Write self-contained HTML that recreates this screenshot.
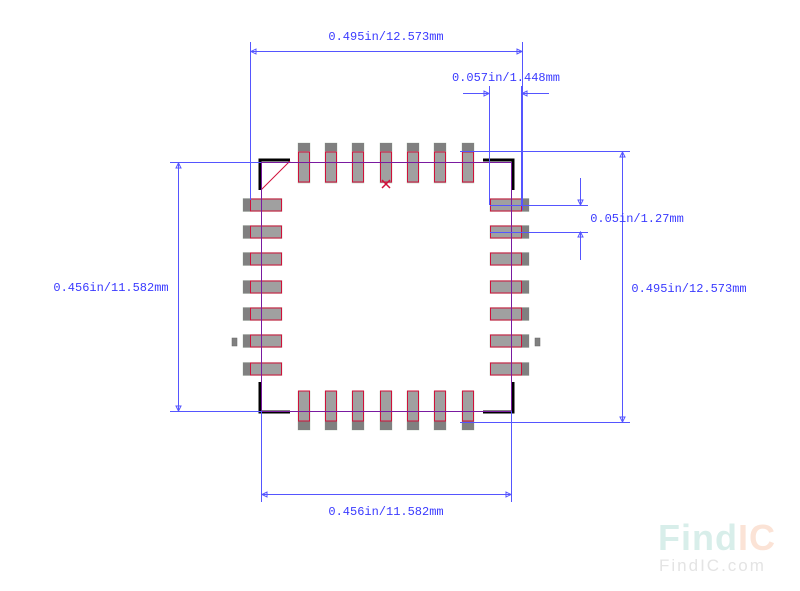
<!DOCTYPE html>
<html><head><meta charset="utf-8"><style>
html,body{margin:0;padding:0;background:#fff;}
svg{display:block;}
text{font-family:"Liberation Mono",monospace;font-size:12px;fill:#3a3aff;}
</style></head><body>
<svg width="800" height="591" viewBox="0 0 800 591" xmlns="http://www.w3.org/2000/svg">
<defs>
<g id="tp"><rect x="-6" y="143" width="12" height="40" fill="#a0a0a0" stroke="#b8c8b8" stroke-width="0.5"/><rect x="-6" y="143" width="12" height="8" fill="#808080"/><rect x="-5.5" y="152" width="11" height="30" fill="none" stroke="#d0103a" stroke-width="1"/></g>
<g id="bp"><rect x="-6" y="391" width="12" height="39" fill="#a0a0a0" stroke="#b8c8b8" stroke-width="0.5"/><rect x="-6" y="421" width="12" height="9" fill="#808080"/><rect x="-5.5" y="391" width="11" height="30" fill="none" stroke="#d0103a" stroke-width="1"/></g>
<g id="lp"><rect x="243" y="-6.5" width="39" height="13" fill="#a0a0a0" stroke="#b8c8b8" stroke-width="0.5"/><rect x="243" y="-6.5" width="7" height="13" fill="#808080"/><rect x="250.5" y="-6" width="31" height="12" fill="none" stroke="#d0103a" stroke-width="1"/></g>
<g id="rp"><rect x="490" y="-6.5" width="39" height="13" fill="#a0a0a0" stroke="#b8c8b8" stroke-width="0.5"/><rect x="521" y="-6.5" width="8" height="13" fill="#808080"/><rect x="490.5" y="-6" width="31" height="12" fill="none" stroke="#d0103a" stroke-width="1"/></g>
</defs>
<g>
<use href="#tp" x="304"/><use href="#tp" x="331"/><use href="#tp" x="358"/><use href="#tp" x="386"/><use href="#tp" x="413"/><use href="#tp" x="440"/><use href="#tp" x="468"/>
<use href="#bp" x="304"/><use href="#bp" x="331"/><use href="#bp" x="358"/><use href="#bp" x="386"/><use href="#bp" x="413"/><use href="#bp" x="440"/><use href="#bp" x="468"/>
<use href="#lp" y="205"/><use href="#lp" y="232"/><use href="#lp" y="259"/><use href="#lp" y="287"/><use href="#lp" y="314"/><use href="#lp" y="341"/><use href="#lp" y="369"/>
<use href="#rp" y="205"/><use href="#rp" y="232"/><use href="#rp" y="259"/><use href="#rp" y="287"/><use href="#rp" y="314"/><use href="#rp" y="341"/><use href="#rp" y="369"/>
<rect x="232" y="338" width="5" height="8" fill="#808080" stroke="#666" stroke-width="0.5"/>
<rect x="535" y="338" width="5" height="8" fill="#808080" stroke="#666" stroke-width="0.5"/>
</g>
<!-- black outline corners -->
<g stroke="#000" stroke-width="3" fill="none">
<polyline points="290,160 260,160 260,190"/>
<polyline points="483,160 513,160 513,190"/>
<polyline points="260,382 260,412 290,412"/>
<polyline points="483,412 513,412 513,382"/>
</g>
<line x1="261" y1="190" x2="290" y2="161" stroke="#d0103a" stroke-width="1"/>
<!-- purple body -->
<rect x="261.5" y="162.5" width="250" height="249" fill="none" stroke="#7a1aa0" stroke-width="1"/>
<!-- red X -->
<g stroke="#d0103a" stroke-width="1.5"><line x1="382" y1="180" x2="390" y2="188"/><line x1="390" y1="180" x2="382" y2="188"/></g>
<!-- blue dimensions -->
<g stroke="#5555ff" stroke-width="1" fill="none">
<line x1="250.5" y1="42" x2="250.5" y2="200"/><line x1="522.5" y1="42" x2="522.5" y2="210"/><line x1="250" y1="51.5" x2="522" y2="51.5"/>
<polygon points="251,51.5 256,49 256,54"/><polygon points="522,51.5 517,49 517,54"/>
<line x1="489.5" y1="86" x2="489.5" y2="205"/><line x1="521.5" y1="86" x2="521.5" y2="205"/>
<line x1="463" y1="93.5" x2="489" y2="93.5"/><line x1="521" y1="93.5" x2="549" y2="93.5"/>
<polygon points="489,93.5 484,91 484,96"/><polygon points="522,93.5 527,91 527,96"/>
<line x1="460" y1="151.5" x2="630" y2="151.5"/><line x1="460" y1="422.5" x2="630" y2="422.5"/><line x1="622.5" y1="151" x2="622.5" y2="422"/>
<polygon points="622.5,152 620,157 625,157"/><polygon points="622.5,422 620,417 625,417"/>
<line x1="490" y1="205.5" x2="588" y2="205.5"/><line x1="490" y1="232.5" x2="588" y2="232.5"/>
<line x1="580.5" y1="178" x2="580.5" y2="205"/><line x1="580.5" y1="232" x2="580.5" y2="260"/>
<polygon points="580.5,205 578,200 583,200"/><polygon points="580.5,232 578,237 583,237"/>
<line x1="170" y1="162.5" x2="261" y2="162.5"/><line x1="170" y1="411.5" x2="261" y2="411.5"/><line x1="178.5" y1="162" x2="178.5" y2="411"/>
<polygon points="178.5,163 176,168 181,168"/><polygon points="178.5,411 176,406 181,406"/>
<line x1="261.5" y1="411" x2="261.5" y2="502"/><line x1="511.5" y1="411" x2="511.5" y2="502"/><line x1="261" y1="494.5" x2="511" y2="494.5"/>
<polygon points="262,494.5 267,492 267,497"/><polygon points="511,494.5 506,492 506,497"/>
</g>
<text x="386" y="40" text-anchor="middle">0.495in/12.573mm</text>
<text x="506" y="81" text-anchor="middle">0.057in/1.448mm</text>
<text x="637" y="222" text-anchor="middle">0.05in/1.27mm</text>
<text x="689" y="292" text-anchor="middle">0.495in/12.573mm</text>
<text x="111" y="291" text-anchor="middle">0.456in/11.582mm</text>
<text x="386" y="515" text-anchor="middle">0.456in/11.582mm</text>
<!-- watermark -->
<text x="658" y="550" style="font-family:'Liberation Sans',sans-serif;font-size:36px;font-weight:bold;fill:#d8eeea;letter-spacing:1px">Find<tspan style="fill:#fbe3d6">IC</tspan></text>
<text x="659" y="571" style="font-family:'Liberation Sans',sans-serif;font-size:17px;fill:#e4e4e4;letter-spacing:2px">FindIC.com</text>
</svg>
</body></html>
